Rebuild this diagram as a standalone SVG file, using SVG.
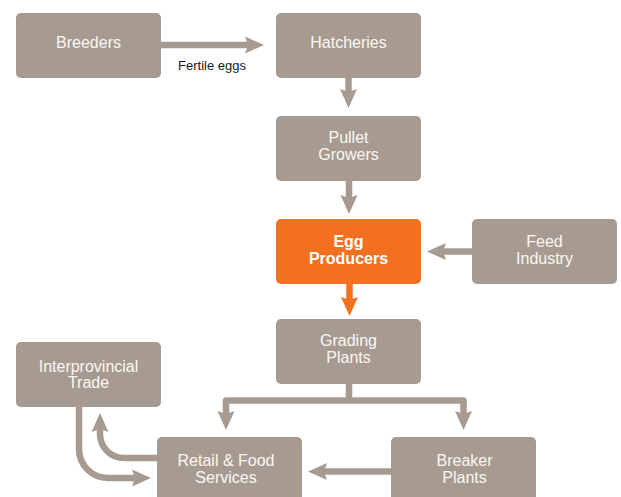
<svg xmlns="http://www.w3.org/2000/svg" width="621" height="497" viewBox="0 0 621 497">
  <defs>
    <style>
      .box { fill: #A79B91; }
      .box.hot { fill: #F37021; }
      .lbl { font-family: "Liberation Sans", Arial, sans-serif; font-size: 16px; fill: #FAF7F3; text-anchor: middle; }
      .lbl.b { font-weight: bold; fill: #FFFFFF; }
      .note { font-family: "Liberation Sans", Arial, sans-serif; font-size: 13px; fill: #1A1A1A; text-anchor: middle; }
      .wire { fill: none; stroke: #A79B91; stroke-width: 6.5; stroke-linejoin: round; }
      .wire.hot { stroke: #F37021; }
    </style>
    <marker id="head" viewBox="0 -9 20 18" markerWidth="20" markerHeight="18" refX="3" refY="0" orient="auto" markerUnits="userSpaceOnUse">
      <path d="M0,-8.5 L19,0 L0,8.5 L3,0 Z" fill="#A79B91"/>
    </marker>
    <marker id="headHot" viewBox="0 -9 20 18" markerWidth="20" markerHeight="18" refX="3" refY="0" orient="auto" markerUnits="userSpaceOnUse">
      <path d="M0,-8.5 L19,0 L0,8.5 L3,0 Z" fill="#F37021"/>
    </marker>
  </defs>

  <rect width="621" height="497" fill="#FFFFFF"/>

  <!-- connectors -->
  <g id="connectors">
    <path class="wire" d="M161,45 H248" marker-end="url(#head)"/>
    <path class="wire" d="M348.5,78 V92" marker-end="url(#head)"/>
    <path class="wire" d="M349,181 V198" marker-end="url(#head)"/>
    <path class="wire" d="M472,251.5 H443" marker-end="url(#head)"/>
    <path class="wire hot" d="M349.5,284 V300" marker-end="url(#headHot)"/>
    <path class="wire" d="M349,384 V400.5"/>
    <path class="wire" d="M349,400.5 H226 V414" marker-end="url(#head)"/>
    <path class="wire" d="M349,400.5 H463.5 V414" marker-end="url(#head)"/>
    <path class="wire" d="M391,471.5 H324" marker-end="url(#head)"/>
    <path class="wire" d="M79,407 V449 A29,29 0 0 0 108,478 H135" marker-end="url(#head)"/>
    <path class="wire" d="M157,458 H124 A24,24 0 0 1 100,434 V429" marker-end="url(#head)"/>
  </g>
  <text class="note" x="212" y="70">Fertile eggs</text>

  <!-- nodes -->
  <g id="breeders">
    <rect class="box" x="16" y="13" width="145" height="65" rx="5"/>
    <text class="lbl" x="88.5" y="48">Breeders</text>
  </g>
  <g id="hatcheries">
    <rect class="box" x="276" y="13" width="145" height="65" rx="5"/>
    <text class="lbl" x="348.5" y="48">Hatcheries</text>
  </g>
  <g id="pullet-growers">
    <rect class="box" x="276" y="116" width="145" height="65" rx="5"/>
    <text class="lbl" x="348.5" y="142.5">Pullet</text>
    <text class="lbl" x="348.5" y="159.5">Growers</text>
  </g>
  <g id="egg-producers">
    <rect class="box hot" x="276" y="219" width="145" height="65" rx="5"/>
    <text class="lbl b" x="348.5" y="246.5">Egg</text>
    <text class="lbl b" x="348.5" y="263.5">Producers</text>
  </g>
  <g id="feed-industry">
    <rect class="box" x="472" y="219" width="145" height="65" rx="5"/>
    <text class="lbl" x="544.5" y="246.5">Feed</text>
    <text class="lbl" x="544.5" y="263.5">Industry</text>
  </g>
  <g id="grading-plants">
    <rect class="box" x="276" y="319" width="145" height="65" rx="5"/>
    <text class="lbl" x="348.5" y="346">Grading</text>
    <text class="lbl" x="348.5" y="363">Plants</text>
  </g>
  <g id="interprovincial-trade">
    <rect class="box" x="16" y="342" width="145" height="65" rx="5"/>
    <text class="lbl" x="88.5" y="371.5">Interprovincial</text>
    <text class="lbl" x="88.5" y="387.5">Trade</text>
  </g>
  <g id="retail-food">
    <rect class="box" x="157" y="437" width="145" height="70" rx="5"/>
    <text class="lbl" x="226" y="466">Retail &amp; Food</text>
    <text class="lbl" x="226" y="483">Services</text>
  </g>
  <g id="breaker-plants">
    <rect class="box" x="391" y="437" width="145" height="70" rx="5"/>
    <text class="lbl" x="464.5" y="466">Breaker</text>
    <text class="lbl" x="464.5" y="483">Plants</text>
  </g>
</svg>
